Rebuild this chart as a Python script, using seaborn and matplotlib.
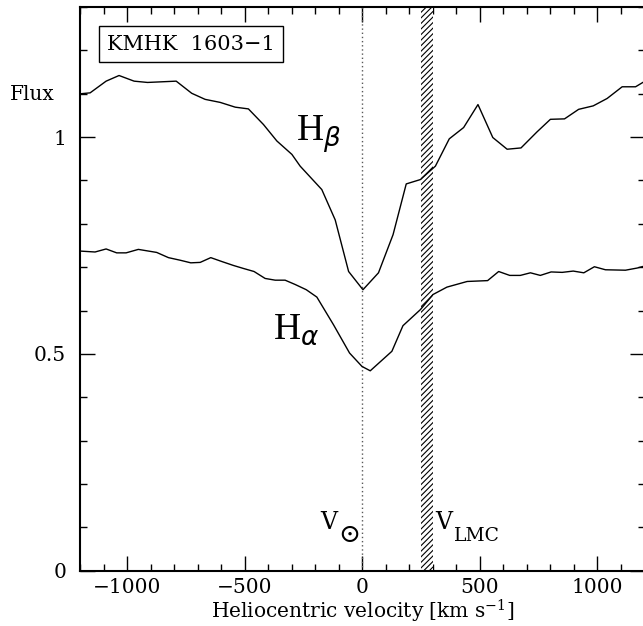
import numpy as np
import matplotlib
matplotlib.use("Agg")
import matplotlib.pyplot as plt
import seaborn as sns
from matplotlib.ticker import MultipleLocator, FixedLocator, FixedFormatter

# H-beta profile (heliocentric velocity in km/s, normalised flux)
vel_hb = [-1196, -1157, -1089, -1034, -970, -913, -791, -725, -668, -604, -540,
          -484, -420, -363, -299, -264, -172, -115, -58, 3, 69, 131, 187, 247,
          311, 370, 431, 492, 555, 616, 675, 743, 800, 860, 920, 982, 1041,
          1105, 1162, 1196]
flux_hb = [1.100, 1.102, 1.129, 1.142, 1.129, 1.126, 1.129, 1.101, 1.087, 1.080,
           1.069, 1.065, 1.029, 0.991, 0.960, 0.933, 0.879, 0.809, 0.690, 0.648,
           0.687, 0.775, 0.892, 0.902, 0.933, 0.996, 1.022, 1.075, 0.999, 0.972,
           0.975, 1.012, 1.041, 1.042, 1.064, 1.072, 1.089, 1.116, 1.116, 1.127]

# H-alpha profile
vel_ha = [-1196, -1136, -1089, -1044, -1004, -952, -874, -824, -774, -729, -689,
          -644, -597, -548, -505, -460, -413, -370, -328, -285, -238, -193, -122,
          -54, -1, 34, 126, 173, 247, 301, 360, 446, 533, 580, 627, 672, 715,
          757, 803, 850, 897, 942, 987, 1034, 1119, 1169, 1196]
flux_ha = [0.737, 0.735, 0.742, 0.733, 0.733, 0.741, 0.734, 0.722, 0.716, 0.710,
           0.711, 0.722, 0.713, 0.704, 0.697, 0.690, 0.674, 0.670, 0.670, 0.660,
           0.648, 0.631, 0.567, 0.502, 0.471, 0.461, 0.506, 0.565, 0.602, 0.637,
           0.654, 0.667, 0.669, 0.690, 0.681, 0.681, 0.687, 0.681, 0.689, 0.688,
           0.691, 0.687, 0.701, 0.694, 0.693, 0.698, 0.702]

# LMC systemic velocity range
v_lmc = [250, 300]

x_ticks = [-1000, -500, 0, 500, 1000]
x_labels = ["\u22121000", "\u2212500", "0", "500", "1000"]
y_ticks = [0, 0.5, 1]
y_labels = ["0", "0.5", "1"]

sns.set_style("ticks")
plt.rcParams["font.family"] = ["DejaVu Serif"]
plt.rcParams["mathtext.fontset"] = "dejavuserif"
plt.rcParams["hatch.linewidth"] = 0.8
for key in ("text.color", "axes.labelcolor", "xtick.color", "ytick.color",
            "axes.edgecolor"):
    plt.rcParams[key] = "black"

W, H = 643, 626
fig = plt.figure(figsize=(W / 100, H / 100), dpi=100)
left, right, top, bottom = 80, 644.5, 7, 570.7
ax = fig.add_axes([left / W, 1 - bottom / H, (right - left) / W, (bottom - top) / H])

sns.lineplot(x=vel_hb, y=flux_hb, ax=ax, color="black", lw=1.0,
             sort=False, estimator=None)
sns.lineplot(x=vel_ha, y=flux_ha, ax=ax, color="black", lw=1.0,
             sort=False, estimator=None)

ax.axvline(0, color="0.35", ls=(0, (1, 2)), lw=1.0, zorder=1)
ax.axvspan(v_lmc[0], v_lmc[1], facecolor="white", edgecolor="black",
           hatch="//////", lw=0, zorder=1.5)

ax.set_xlim(-1200, 1200)
ax.set_ylim(0, 1.3)
ax.xaxis.set_major_locator(FixedLocator(x_ticks))
ax.xaxis.set_major_formatter(FixedFormatter(x_labels))
ax.yaxis.set_major_locator(FixedLocator(y_ticks))
ax.yaxis.set_major_formatter(FixedFormatter(y_labels))
ax.xaxis.set_minor_locator(MultipleLocator(100))
ax.yaxis.set_minor_locator(MultipleLocator(0.1))
ax.tick_params(which="both", direction="in", top=True, right=True,
               color="black", width=1.0)
ax.tick_params(which="major", length=10.5, labelsize=14.5)
ax.tick_params(axis="x", which="major", pad=5)
ax.tick_params(axis="y", which="major", pad=10)
ax.tick_params(which="minor", length=5)
for s in ax.spines.values():
    s.set_linewidth(1.5)
    s.set_color("black")

ax.set_xlabel("Heliocentric velocity [km s$^{-1}$]", fontsize=14.5, labelpad=1)
ax.set_ylabel("")
fig.text(10 / W, 1 - 95 / H, "Flux", fontsize=14.5, va="center", ha="left")

ax.text(-728, 1.214, "KMHK  1603\u22121", fontsize=15, ha="center", va="center",
        bbox=dict(boxstyle="square,pad=0.4", facecolor="white",
                  edgecolor="black", lw=1.0))

# line identifications
ax.text(-281, 0.991, r"H$_{\beta}$", fontsize=27, ha="left", va="baseline",
        family="Liberation Serif", math_fontfamily="dejavusans")
ax.text(-379, 0.535, r"H$_{\alpha}$", fontsize=27, ha="left", va="baseline",
        family="Liberation Serif", math_fontfamily="dejavusans")

# reference velocities
ax.text(-179, 0.097, "V", fontsize=17, ha="left", va="baseline")
ax.text(-57, 0.084, r"$\odot$", fontsize=19, ha="center", va="center")
ax.text(311, 0.097, "V", fontsize=17, ha="left", va="baseline")
ax.text(391, 0.069, "LMC", fontsize=13.5, ha="left", va="baseline")

fig.savefig("out.png", dpi=100)
